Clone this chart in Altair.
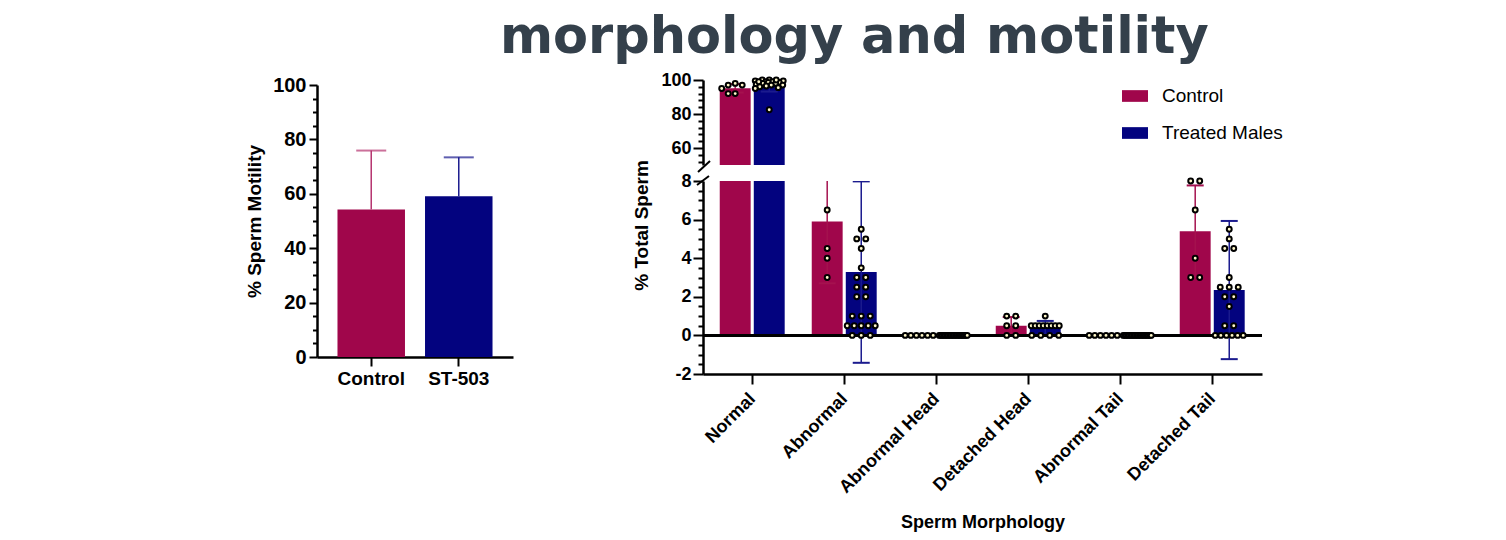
import altair as alt
import pandas as pd
import numpy as np

# ---------------- data ----------------
motility_groups = ["Control", "ST-503"]
motility_mean = [54.2, 59.1]
motility_sd = [21.7, 14.3]

categories = ["Normal", "Abnormal", "Abnormal Head", "Detached Head", "Abnormal Tail", "Detached Tail"]
series_names = ["Control", "Treated Males"]

control_mean = [95.1, 5.9, 0.0, 0.5, 0.0, 5.4]
control_sd = [2.5, 3.2, 0.0, 0.45, 0.0, 2.37]
treated_mean = [97.0, 3.28, 0.0, 0.4, 0.0, 2.35]
treated_sd = [3.8, 4.7, 0.0, 0.35, 0.0, 3.58]

control_normal = [97, 98, 97, 95, 92, 92]
control_abnormal = [6.5, 4.5, 4.0, 3.0]
control_abn_head = [0, 0, 0, 0, 0, 0]
control_det_head = [1.0, 1.0, 0.5, 0.5, 0, 0]
control_abn_tail = [0, 0, 0, 0, 0, 0]
control_det_tail = [8.0, 8.0, 6.5, 4.0, 3.0, 3.0]

treated_normal = [100, 100, 99.5, 99.5, 99, 99, 98.5, 98.5, 98, 98, 97.5, 97, 97,
                  96.5, 96, 95.5, 95, 100, 99, 82.5]
treated_abnormal = [5.5, 5.0, 5.0, 4.5, 3.5, 3.0, 3.0, 2.5, 2.5, 2.0, 2.0, 1.0, 1.0, 1.0,
                    0.5, 0.5, 0.5, 0.5, 0.5, 0, 0, 0]
treated_abn_head = [0, 0, 0, 0, 0, 0, 0, 0, 0, 0, 0, 0, 0, 0, 0, 0, 0, 0, 0, 0]
treated_det_head = [1.0, 0.5, 0.5, 0.5, 0.5, 0.5, 0.5, 0.5, 0.5, 0, 0, 0, 0]
treated_abn_tail = [0, 0, 0, 0, 0, 0, 0, 0, 0, 0, 0, 0, 0, 0, 0, 0, 0, 0, 0, 0]
treated_det_tail = [5.5, 5.0, 4.5, 4.5, 3.0, 2.5, 2.5, 2.5, 2.0, 2.0, 1.5, 0.5, 0.5,
                    0, 0, 0, 0, 0, 0]

control_points = [control_normal, control_abnormal, control_abn_head,
                  control_det_head, control_abn_tail, control_det_tail]
treated_points = [treated_normal, treated_abnormal, treated_abn_head,
                  treated_det_head, treated_abn_tail, treated_det_tail]

# ---------------- style / layout ----------------
FONT = "Liberation Sans"
CRIMSON = "#A0064B"
NAVY = "#03037F"
ERR_C_LEFT = "#B5336F"
ERR_C = "#A5124F"
ERR_T = "#1B1B8E"
DOT = "#FFF8C9"
TITLE_C = "#34404B"

RIGHT_W = 559
PX_PER_CAT = 92.0
X_DOMAIN = [-0.535, -0.535 + RIGHT_W / PX_PER_CAT]
BAR_OFF = 0.185
BAR_HALF = 0.168
CAP_HALF = 8.5 / PX_PER_CAT
TOP_H = 85
BOT_H = 193
TOP_DOMAIN = [50, 100]
BOT_DOMAIN = [-2, 8]
LEFT_H = 277
LEFT_TOP_GAP = 5


def row_offsets(vals, gap=9.0, span=28.0):
    out = [0.0] * len(vals)
    groups = {}
    for i, v in enumerate(vals):
        groups.setdefault(v, []).append(i)
    for v, idxs in groups.items():
        n = len(idxs)
        if n == 1:
            continue
        sp = min(gap, span / (n - 1))
        for k, i in enumerate(idxs):
            out[i] = (k - (n - 1) / 2) * sp
    return out


def swarm_offsets(vals, ypx, diam=7.0, half=14.0):
    order = sorted(range(len(vals)), key=lambda i: -vals[i])
    cands = sorted(np.arange(-half, half + 0.001, 0.5), key=lambda c: (abs(c), c))
    placed = []
    out = [0.0] * len(vals)
    for i in order:
        y = vals[i] * ypx
        best_c, best_d = 0.0, -1.0
        for c in cands:
            d = min((float(np.hypot(c - px, y - py)) for px, py in placed), default=1e9)
            if d >= diam:
                best_c = c
                break
            if d > best_d:
                best_d, best_c = d, c
        placed.append((best_c, y))
        out[i] = best_c
    return out


# ---------------- tables ----------------
bar_rows, cap_rows, dot_rows = [], [], []
for i, cat in enumerate(categories):
    for s, sname in enumerate(series_names):
        mean = (control_mean if s == 0 else treated_mean)[i]
        sd = (control_sd if s == 0 else treated_sd)[i]
        xc = i + (-BAR_OFF if s == 0 else BAR_OFF)
        errc = ERR_C if s == 0 else ERR_T
        bar_rows.append(dict(cat=cat, series=sname, xc=xc, x1=xc - BAR_HALF, x2=xc + BAR_HALF,
                             mean=mean, lo=mean - sd, hi=mean + sd, errc=errc))
        if sd > 0:
            for yv in (mean + sd, mean - sd):
                cap_rows.append(dict(cat=cat, cx1=xc - CAP_HALF, cx2=xc + CAP_HALF, yv=yv, errc=errc))
        pts = (control_points if s == 0 else treated_points)[i]
        if cat == "Normal":
            offs = swarm_offsets(pts, TOP_H / (TOP_DOMAIN[1] - TOP_DOMAIN[0]))
        else:
            offs = row_offsets(pts)
        for v, o in zip(pts, offs):
            dot_rows.append(dict(cat=cat, series=sname, value=v, x=xc + o / PX_PER_CAT))

bars_df = pd.DataFrame(bar_rows)
caps_df = pd.DataFrame(cap_rows)
dots_df = pd.DataFrame(dot_rows)


def axis(**kw):
    base = dict(labelFont=FONT, labelFontWeight="bold", labelColor="black",
                titleFont=FONT, titleFontWeight="bold", titleColor="black",
                domainColor="black", tickColor="black", domainWidth=2.5,
                tickWidth=2, grid=False)
    base.update(kw)
    return alt.Axis(**base)


def yaxis(values, major_test, major_size, minor_size, **kw):
    return axis(values=values, orient="left",
                labelExpr="(%s) ? '' + datum.value : ''" % major_test,
                tickSize={"condition": {"test": major_test, "value": major_size}, "value": minor_size},
                **kw)


# ---------------- left chart: motility ----------------
left_df = pd.DataFrame({"group": motility_groups, "mean": motility_mean, "sd": motility_sd})
left_df["hi"] = left_df["mean"] + left_df["sd"]
left_df["errc"] = [ERR_C_LEFT, ERR_T]

xsL = alt.Scale(paddingInner=0.229, paddingOuter=0.234)
ysL = alt.Scale(domain=[0, 100], nice=False, range=[LEFT_H, LEFT_TOP_GAP])
xaxL = axis(title=None, labelAngle=0, labelFontSize=19, tickSize=9, labelPadding=3, orient="bottom")
yaxL = yaxis(list(range(0, 101, 5)), "datum.value % 20 === 0", 8, 4.5,
             title="% Sperm Motility", labelFontSize=20, titleFontSize=19,
             labelPadding=3, titlePadding=8)

l_bars = alt.Chart(left_df).mark_bar().encode(
    x=alt.X("group:N", sort=motility_groups, scale=xsL, axis=xaxL),
    y=alt.Y("mean:Q", scale=ysL, axis=yaxL),
    color=alt.Color("group:N", scale=alt.Scale(domain=motility_groups, range=[CRIMSON, NAVY]), legend=None),
)
l_err = alt.Chart(left_df).mark_rule(strokeWidth=1.5).encode(
    x=alt.X("group:N", sort=motility_groups, scale=xsL, axis=xaxL),
    y=alt.Y("mean:Q", scale=ysL, axis=yaxL), y2="hi:Q",
    color=alt.Color("errc:N", scale=None),
)
l_cap = alt.Chart(left_df).mark_tick(size=30, thickness=2).encode(
    x=alt.X("group:N", sort=motility_groups, scale=xsL, axis=xaxL),
    y=alt.Y("hi:Q", scale=ysL, axis=yaxL),
    color=alt.Color("errc:N", scale=None),
)
left = alt.layer(l_bars, l_err, l_cap).properties(width=196, height=LEFT_H)

# ---------------- right chart: morphology (broken axis) ----------------
xsR = alt.Scale(domain=X_DOMAIN, nice=False, zero=False)
color_scale = alt.Scale(domain=series_names, range=[CRIMSON, NAVY])
label_expr = "[" + ",".join("'%s'" % c for c in categories) + "][datum.value]"


def panel(domain, height, top):
    ys = alt.Scale(domain=domain, nice=False, zero=False, clamp=True)
    bdf = bars_df[bars_df.cat == "Normal"] if top else bars_df
    cdf = caps_df[caps_df.cat == "Normal"] if top else caps_df
    cdf = cdf[(cdf.yv >= domain[0]) & (cdf.yv <= domain[1])]
    ddf = dots_df[dots_df.cat == "Normal"] if top else dots_df[dots_df.cat != "Normal"]
    base_val = domain[0] if top else 0

    if top:
        xax = None
        yax = yaxis(list(range(52, 101, 4)), "datum.value % 20 === 0", 10, 5,
                    title=None, labelFontSize=18, labelPadding=2)
        legend = alt.Legend(orient="none", legendX=419, legendY=3, title=None,
                            symbolType="M-1,-0.45L1,-0.45L1,0.45L-1,0.45Z", symbolSize=676,
                            symbolStrokeWidth=0, symbolOpacity=1, labelFont=FONT, labelFontSize=19,
                            labelColor="black", labelOffset=14, rowPadding=14, padding=0)
    else:
        xax = axis(title="Sperm Morphology", values=list(range(len(categories))), labelExpr=label_expr,
                   labelAngle=-45, labelAlign="right", labelBaseline="middle", labelFontSize=18,
                   labelOverlap=False, titleFontSize=18, tickSize=10, labelPadding=12,
                   titlePadding=17, orient="bottom")
        yax = yaxis([v / 2 for v in range(-4, 17)], "datum.value % 2 === 0", 10, 5,
                    title="% Total Sperm", labelFontSize=18, labelPadding=2, titleFontSize=19,
                    titleX=-52, titleY=44)
        legend = None

    bars = alt.Chart(bdf).mark_bar(clip=True).encode(
        x=alt.X("x1:Q", scale=xsR, axis=xax), x2="x2:Q",
        y=alt.Y("mean:Q", scale=ys, axis=yax), y2=alt.datum(base_val),
        color=alt.Color("series:N", scale=color_scale, legend=legend),
    )
    err = alt.Chart(bdf).mark_rule(strokeWidth=1.5, clip=True).encode(
        x=alt.X("xc:Q", scale=xsR, axis=xax),
        y=alt.Y("lo:Q", scale=ys, axis=yax), y2="hi:Q",
        color=alt.Color("errc:N", scale=None),
    )
    caps = alt.Chart(cdf).mark_rule(strokeWidth=2, clip=True).encode(
        x=alt.X("cx1:Q", scale=xsR, axis=xax), x2="cx2:Q",
        y=alt.Y("yv:Q", scale=ys, axis=yax),
        color=alt.Color("errc:N", scale=None),
    )
    dots = alt.Chart(ddf).mark_circle(size=24, fill=DOT, stroke="black", strokeWidth=2, opacity=1).encode(
        x=alt.X("x:Q", scale=xsR, axis=xax),
        y=alt.Y("value:Q", scale=ys, axis=yax),
    )
    one = pd.DataFrame({"k": [0]})
    if top:
        brk = alt.Chart(one).mark_rule(color="black", strokeWidth=2).encode(
            x=alt.value(-5), x2=alt.value(7), y=alt.value(92), y2=alt.value(81))
        layers = [bars, err, caps, brk, dots]
    else:
        zero = alt.Chart(one).mark_rule(color="black", strokeWidth=3).encode(
            y=alt.Y("k:Q", scale=ys, axis=yax))
        brk = alt.Chart(one).mark_rule(color="black", strokeWidth=2).encode(
            x=alt.value(-6), x2=alt.value(6), y=alt.value(4), y2=alt.value(-5))
        layers = [bars, err, caps, zero, brk, dots]
    return alt.layer(*layers).properties(width=RIGHT_W, height=height)


top = panel(TOP_DOMAIN, TOP_H, True)
bottom = panel(BOT_DOMAIN, BOT_H, False)
right = alt.vconcat(top, bottom, spacing=16, bounds="flush").resolve_scale(
    color="independent", x="independent")

chart = alt.hconcat(left, right, spacing=119).resolve_scale(color="independent").properties(
    title=alt.TitleParams(text="morphology and motility", font="DejaVu Sans", fontSize=51, fontWeight="bold",
                          color=TITLE_C, anchor="middle", dx=90, dy=-3, offset=4),
    padding={"left": 237, "top": 4, "right": 0, "bottom": 0},
).configure(font=FONT).configure_view(stroke="transparent", strokeWidth=0)

chart.save("out.html", embed_options={"renderer": "svg", "actions": False})
